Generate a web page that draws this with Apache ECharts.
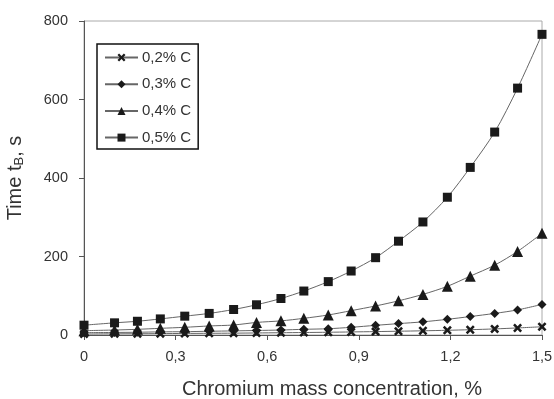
<!DOCTYPE html>
<html>
<head>
<meta charset="utf-8">
<script src="https://cdn.jsdelivr.net/npm/echarts@6/dist/echarts.min.js"></script>
<style>html,body{margin:0;padding:0;background:#fff;}#c{width:554px;height:399px;}</style>
</head>
<body>
<div id="c"></div>
<script>
const xValues = [0, 0.1, 0.175, 0.25, 0.33, 0.41, 0.49, 0.565, 0.645, 0.72, 0.8, 0.875, 0.955, 1.03, 1.11, 1.19, 1.265, 1.345, 1.42, 1.5];
const seriesNames = ['0,2% C', '0,3% C', '0,4% C', '0,5% C'];
const c02 = [2.5, 3, 3.2, 3.5, 4, 4.3, 4.7, 5.2, 5.8, 6.3, 7, 7.8, 8.7, 9.6, 10.7, 12, 13.5, 15.5, 18, 21];
const c03 = [6, 6.5, 7, 8, 8.5, 9.5, 10.5, 11.5, 12.7, 14.5, 16, 19.6, 24.6, 29, 33.5, 40, 47, 55, 64, 78];
const c04 = [11, 12.7, 14.5, 17, 19.6, 23, 25.5, 32, 36, 42.5, 51, 62, 74, 87, 103.5, 124, 150, 178, 213, 259];
const c05 = [25, 31, 35, 41, 48, 55, 65, 77, 93, 112, 136, 163, 197, 239, 288, 351, 427, 517, 629, 766];
const yTicks = [0, 200, 400, 600, 800];
const xTicks = [0, 0.3, 0.6, 0.9, 1.2, 1.5];

const crossPath = 'path://M0,2 L2,0 L5,3 L8,0 L10,2 L7,5 L10,8 L8,10 L5,7 L2,10 L0,8 L3,5 Z';
const symbols = [crossPath, 'diamond', 'triangle', 'rect'];
const sizes = [9, 9, 11, 9];
const allData = [c02, c03, c04, c05];

const chart = echarts.init(document.getElementById('c'), null, {renderer: 'canvas'});
const font = 'Liberation Sans, Arial, sans-serif';
chart.setOption({
  animation: false,
  backgroundColor: '#fff',
  grid: {left: 84, right: 12, top: 21, bottom: 64, show: true, borderColor: '#aaa', borderWidth: 1,
    containLabel: false, outerBoundsMode: 'none'},
  legend: {
    left: 97, top: 44, orient: 'vertical',
    itemWidth: 33, itemHeight: 10, itemGap: 11.7,
    padding: [6, 7, 4, 7],
    borderColor: '#111', borderWidth: 1.5,
    textStyle: {fontFamily: font, fontSize: 15, color: '#333', padding: [0, 0, 0, -1]},
    data: seriesNames
  },
  xAxis: {
    type: 'value', min: xTicks[0], max: xTicks[xTicks.length - 1], interval: 0.3,
    name: 'Chromium mass concentration, %', nameLocation: 'middle', nameGap: 44,
    nameTextStyle: {fontFamily: font, fontSize: 20, color: '#333', padding: [0, 0, 0, 38]},
    axisLine: {lineStyle: {color: '#555', width: 1}},
    axisTick: {show: true, length: 5, lineStyle: {color: '#555'}},
    axisLabel: {fontFamily: font, fontSize: 14.5, color: '#333', margin: 14,
      formatter: v => v === 0 ? '0' : v.toFixed(1).replace('.', ',')},
    splitLine: {show: false}
  },
  yAxis: {
    type: 'value', min: yTicks[0], max: yTicks[yTicks.length - 1], interval: 200,
    name: '{n|Time t}{s|B}{n|, s}', nameLocation: 'middle', nameGap: 58,
    nameTextStyle: {rich: {
      n: {fontFamily: font, fontSize: 20, color: '#333'},
      s: {fontFamily: font, fontSize: 13, color: '#333', verticalAlign: 'bottom', padding: [8, 0, 0, 0]}
    }},
    axisLine: {show: true, lineStyle: {color: '#555', width: 1}},
    axisTick: {show: true, length: 5, lineStyle: {color: '#555'}},
    axisLabel: {fontFamily: font, fontSize: 14.5, color: '#333', margin: 16},
    splitLine: {show: false}
  },
  series: seriesNames.map((n, i) => ({
    name: n, type: 'line', smooth: 0.3, clip: false,
    data: xValues.map((x, j) => [x, allData[i][j]]),
    symbol: symbols[i], symbolSize: sizes[i], showAllSymbol: true,
    lineStyle: {color: '#666', width: 1},
    itemStyle: {color: '#1a1a1a'}
  }))
});
</script>
</body>
</html>
